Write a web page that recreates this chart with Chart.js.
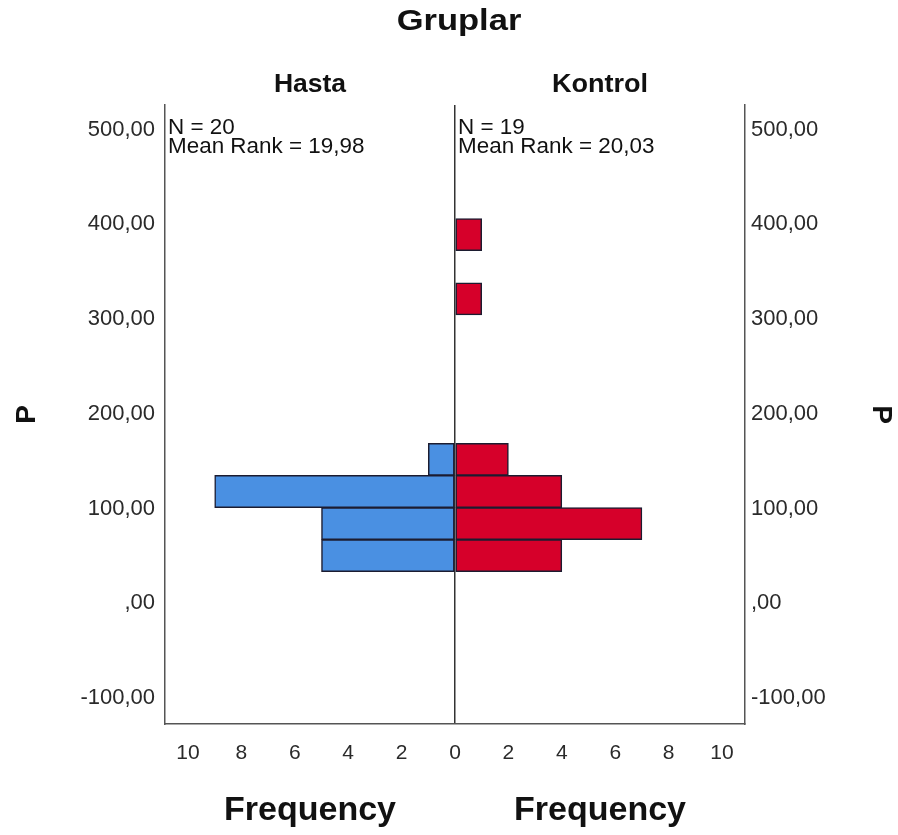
<!DOCTYPE html>
<html>
<head>
<meta charset="utf-8">
<script src="https://cdn.jsdelivr.net/npm/chart.js@4.4.1/dist/chart.umd.min.js"></script>
<style>
  html, body { margin: 0; padding: 0; background: #fff; }
  #wrap { width: 898px; height: 835px; position: relative; }
</style>
</head>
<body>
<div id="wrap"><canvas id="c" width="898" height="835"></canvas></div>
<script>
// ---- data ----
const chartTitle = 'Gruplar';
const groups = ['Hasta', 'Kontrol'];
const groupN = [20, 19];
const groupMeanRank = ['19,98', '20,03'];
const axisTitleY = 'P';
const axisTitleX = 'Frequency';
// histogram bins (midpoints of P), bin width ~33.9
const binMidpoints = [50.15, 84.05, 117.95, 151.85, 321.35, 389.15];
const hastaCounts   = [5, 5, 9, 1, 0, 0];
const kontrolCounts = [4, 7, 4, 2, 1, 1];
const yTicks = [-100, 0, 100, 200, 300, 400, 500];
const xTicks = [-10, -8, -6, -4, -2, 0, 2, 4, 6, 8, 10];

const FONT = '"Liberation Sans", Arial, sans-serif';
const BLUE = '#4a90e2';
const RED = '#d6002a';
const EDGE = '#1c1c30';

const hastaData = binMidpoints.map((y, i) => ({ x: [-hastaCounts[i], 0], y: y })).filter((d, i) => hastaCounts[i] > 0);
const kontrolData = binMidpoints.map((y, i) => ({ x: [0, kontrolCounts[i]], y: y })).filter((d, i) => kontrolCounts[i] > 0);

function fmtY(v) {
  if (v === 0) return ',00';
  return v.toFixed(2).replace('.', ',');
}

function stretchText(ctx, text, x, y, sx) {
  ctx.save();
  ctx.translate(x, y);
  ctx.scale(sx, 1);
  ctx.fillText(text, 0, 0);
  ctx.restore();
}

const textPlugin = {
  id: 'panelText',
  afterDraw(chart) {
    const { ctx, chartArea } = chart;
    const xs = chart.scales.x;
    const mid = xs.getPixelForValue(0);
    const leftC = (chartArea.left + mid) / 2;
    const rightC = (mid + chartArea.right) / 2;
    ctx.save();
    ctx.fillStyle = '#111';
    ctx.textAlign = 'center';
    ctx.textBaseline = 'middle';
    ctx.font = 'bold 30px ' + FONT;
    stretchText(ctx, chartTitle, (chartArea.left + chartArea.right) / 2 + 4, 22, 1.15);
    ctx.font = 'bold 26px ' + FONT;
    stretchText(ctx, groups[0], leftC, 85, 1.02);
    stretchText(ctx, groups[1], rightC, 85, 1.04);
    ctx.font = 'bold 33px ' + FONT;
    stretchText(ctx, axisTitleX, leftC, 811, 1.03);
    stretchText(ctx, axisTitleX, rightC, 811, 1.03);
    ctx.textAlign = 'left';
    ctx.font = '22px ' + FONT;
    ctx.fillStyle = '#111';
    const starts = [chartArea.left + 3, mid + 3];
    for (let g = 0; g < 2; g++) {
      stretchText(ctx, 'N = ' + groupN[g], starts[g], chartArea.top + 23, 1.02);
      stretchText(ctx, 'Mean Rank = ' + groupMeanRank[g], starts[g], chartArea.top + 42, 1.02);
    }
    ctx.restore();
  }
};

const yCommon = {
  type: 'linear',
  min: -127.5,
  max: 526,
  offset: false,
  afterBuildTicks: (s) => { s.ticks = yTicks.map(v => ({ value: v })); },
  grid: { display: false, drawTicks: false, offset: false },
  border: { display: true, color: '#555', width: 1.5 },
  ticks: { color: '#2a2a2a', font: { family: FONT, size: 22 }, callback: (v) => fmtY(v) }
};

new Chart(document.getElementById('c'), {
  type: 'bar',
  data: {
    datasets: [
      { label: groups[0], data: hastaData, backgroundColor: BLUE, borderColor: EDGE, borderWidth: 1.5, borderSkipped: false, grouped: false, barPercentage: 1, categoryPercentage: 1 },
      { label: groups[1], data: kontrolData, backgroundColor: RED, borderColor: EDGE, borderWidth: 1.5, borderSkipped: false, grouped: false, barPercentage: 1, categoryPercentage: 1 }
    ]
  },
  options: {
    indexAxis: 'y',
    responsive: false,
    animation: false,
    layout: { padding: { top: 105, left: 0, right: 0, bottom: 0 } },
    plugins: { legend: { display: false }, tooltip: { enabled: false }, title: { display: false } },
    scales: {
      x: {
        type: 'linear',
        min: -10.86,
        max: 10.86,
        afterBuildTicks: (s) => { s.ticks = xTicks.map(v => ({ value: v })); },
        afterFit: (s) => { s.height = 111; },
        grid: {
          drawTicks: false,
          lineWidth: 1.5,
          color: (c) => (c.tick && c.tick.value === 0) ? '#333' : 'rgba(0,0,0,0)'
        },
        border: { display: true, color: '#555', width: 1.5 },
        ticks: { color: '#2a2a2a', font: { family: FONT, size: 21 }, padding: 17, maxRotation: 0, autoSkip: false, callback: (v) => String(Math.abs(v)) }
      },
      y: Object.assign({}, yCommon, {
        position: 'left',
        afterFit: (s) => { s.width = 165; },
        ticks: Object.assign({}, yCommon.ticks, { padding: 10 }),
        title: { display: true, text: axisTitleY, color: '#111', font: { family: FONT, size: 28, weight: 'bold' }, padding: { top: 10, bottom: 0 } }
      }),
      y2: Object.assign({}, yCommon, {
        position: 'right',
        afterFit: (s) => { s.width = 153; },
        ticks: Object.assign({}, yCommon.ticks, { padding: 6 }),
        title: { display: true, text: axisTitleY, color: '#111', font: { family: FONT, size: 28, weight: 'bold' }, padding: { top: 0, bottom: 0 } }
      })
    }
  },
  plugins: [textPlugin]
});
</script>
</body>
</html>
